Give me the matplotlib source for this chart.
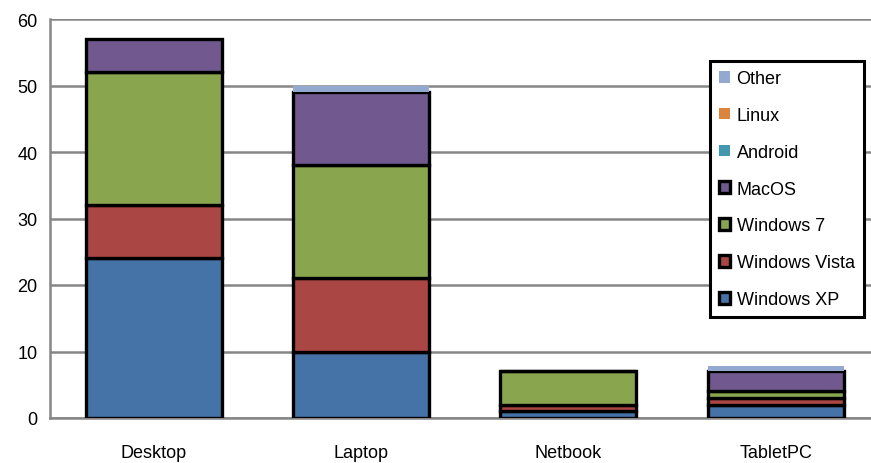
import matplotlib
matplotlib.use("Agg")
import matplotlib.pyplot as plt
import numpy as np

plt.rcParams['font.family'] = ['Liberation Sans Narrow', 'Liberation Sans', 'DejaVu Sans']

categories = ["Desktop", "Laptop", "Netbook", "TabletPC"]
windows_xp = [24, 10, 1, 2]
windows_vista = [8, 11, 1, 1]
windows_7 = [20, 17, 5, 1]
macos = [5, 11, 0, 3]
android = [0, 0, 0, 0]
linux = [0, 0, 0, 0]
other = [0, 1, 0, 0.8]

series = [
    ("Windows XP", windows_xp, "#4572A7", True),
    ("Windows Vista", windows_vista, "#AA4643", True),
    ("Windows 7", windows_7, "#89A54E", True),
    ("MacOS", macos, "#71588F", True),
    ("Android", android, "#4198AF", False),
    ("Linux", linux, "#DB843D", False),
    ("Other", other, "#93A9CF", False),
]

W, H = 871, 464
fig = plt.figure(figsize=(W / 100, H / 100), dpi=100)
ax = fig.add_axes([50 / W, 45 / H, 1 - 50 / W, 399 / H])

x = np.arange(len(categories))
bottom = np.zeros(len(categories))
handles = []
for name, vals, color, edged in series:
    vals = np.array(vals, dtype=float)
    b = ax.bar(x, vals, width=0.655, bottom=bottom, color=color,
               edgecolor="black" if edged else "none",
               linewidth=2.4 if edged else 0, label=name, zorder=3)
    handles.append(b)
    bottom += vals

ax.set_xlim(-0.5, 3.46)
ax.set_ylim(0, 60)
ax.set_yticks(range(0, 61, 10))
ax.set_xticks(x)
ax.set_xticklabels(categories)
ax.yaxis.grid(True, color="#868686", linewidth=1.8, zorder=1)
ax.set_axisbelow(True)

for s in ["top", "right"]:
    ax.spines[s].set_visible(False)
for s in ["left", "bottom"]:
    ax.spines[s].set_color("#868686")
    ax.spines[s].set_linewidth(1.8)
ax.spines["bottom"].set_zorder(2)

ax.tick_params(axis="both", length=0, labelsize=13, colors="black")
ax.tick_params(axis="y", pad=9)
ax.tick_params(axis="x", pad=19)

leg = ax.legend(handles[::-1], [s[0] for s in series][::-1],
                loc="upper left", bbox_to_anchor=(710 / W, 1 - 62 / H),
                bbox_transform=fig.transFigure, fontsize=13,
                frameon=True, fancybox=False, framealpha=1,
                labelspacing=1.1, handlelength=0.62, handleheight=0.62,
                handletextpad=0.35, borderpad=0.5, borderaxespad=0)
leg.get_frame().set_edgecolor("black")
leg.get_frame().set_linewidth(2.2)
leg.set_zorder(5)

fig.savefig("out.png", dpi=100)
